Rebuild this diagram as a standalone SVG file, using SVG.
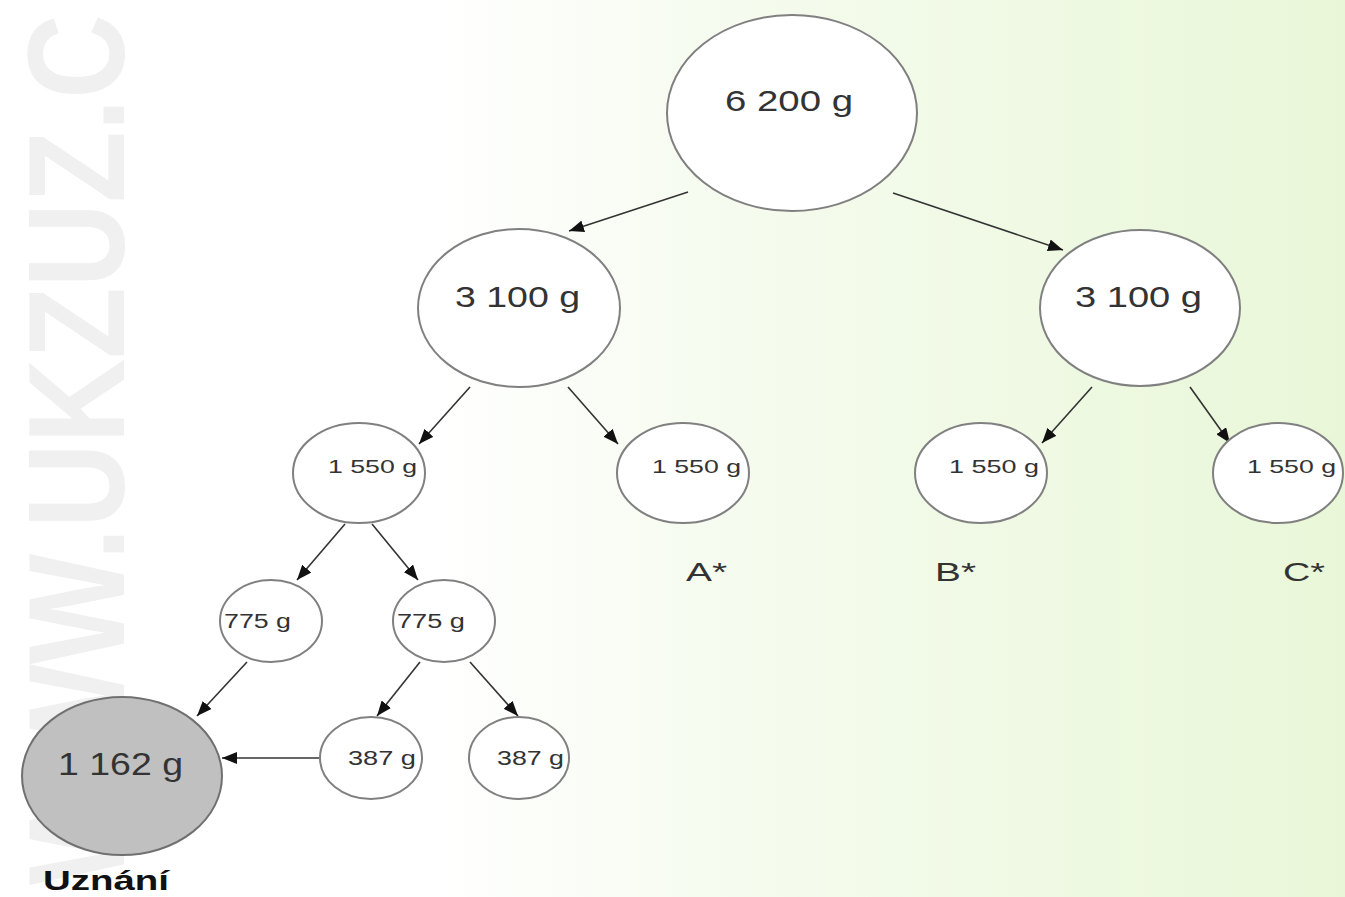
<svg xmlns="http://www.w3.org/2000/svg" width="1345" height="897" viewBox="0 0 1345 897">
<defs>
<linearGradient id="bg" x1="0" y1="0" x2="1345" y2="0" gradientUnits="userSpaceOnUse">
<stop offset="0" stop-color="#ffffff"/>
<stop offset="0.32" stop-color="#ffffff"/>
<stop offset="0.55" stop-color="#f5fbee"/>
<stop offset="1" stop-color="#e9f7d8"/>
</linearGradient>
<marker id="ah" markerUnits="userSpaceOnUse" markerWidth="16" markerHeight="12" refX="15" refY="6" orient="auto">
<path d="M0,0 L15,6 L0,12 z" fill="#111"/>
</marker>
<style>
.n{fill:#ffffff;stroke:#808080;stroke-width:2}
.g{fill:#c0c0c0;stroke:#707070;stroke-width:2}
.t{font-family:"Liberation Sans",Arial,sans-serif;fill:#333333}
.c line{stroke:#333333;stroke-width:1.6;marker-end:url(#ah)}
.wm{font-family:"Liberation Sans",Arial,sans-serif;font-weight:bold;fill:#f0f0f0}
</style>
</defs>
<rect x="0" y="0" width="1345" height="897" fill="url(#bg)"/>
<text class="wm" font-size="117" transform="translate(124,885) scale(1.17,1) rotate(-90)">WWW.UKZUZ.C</text>

<g id="connectors" class="c">
<line x1="688" y1="192" x2="569" y2="231"/>
<line x1="893" y1="193" x2="1063" y2="250"/>
<line x1="470" y1="387" x2="419" y2="444"/>
<line x1="568" y1="387" x2="618" y2="444"/>
<line x1="1092" y1="387" x2="1042" y2="443"/>
<line x1="1190" y1="387" x2="1230" y2="443"/>
<line x1="345" y1="524" x2="297" y2="580"/>
<line x1="372" y1="524" x2="418" y2="580"/>
<line x1="247" y1="662" x2="197" y2="716"/>
<line x1="420" y1="662" x2="377" y2="716"/>
<line x1="470" y1="662" x2="518" y2="716"/>
<line x1="320" y1="758" x2="222" y2="758"/>
</g>

<g id="n6200"><ellipse class="n" cx="792" cy="113" rx="125" ry="98"/><text class="t" x="725" y="111" font-size="30" textLength="128" lengthAdjust="spacingAndGlyphs">6 200 g</text></g>
<g id="n3100a"><ellipse class="n" cx="519" cy="308" rx="101" ry="79"/><text class="t" x="455" y="307" font-size="30" textLength="125" lengthAdjust="spacingAndGlyphs">3 100 g</text></g>
<g id="n3100b"><ellipse class="n" cx="1140" cy="308" rx="100" ry="78"/><text class="t" x="1075" y="307" font-size="30" textLength="127" lengthAdjust="spacingAndGlyphs">3 100 g</text></g>
<g id="n1550a"><ellipse class="n" cx="359" cy="473" rx="66" ry="50"/><text class="t" x="328" y="473" font-size="19" textLength="89" lengthAdjust="spacingAndGlyphs">1 550 g</text></g>
<g id="n1550b"><ellipse class="n" cx="683" cy="473" rx="66" ry="50"/><text class="t" x="652" y="473" font-size="19" textLength="89" lengthAdjust="spacingAndGlyphs">1 550 g</text></g>
<g id="n1550c"><ellipse class="n" cx="981" cy="473" rx="66" ry="50"/><text class="t" x="949" y="473" font-size="19" textLength="90" lengthAdjust="spacingAndGlyphs">1 550 g</text></g>
<g id="n1550d"><ellipse class="n" cx="1278" cy="473" rx="65" ry="50"/><text class="t" x="1247" y="473" font-size="19" textLength="89" lengthAdjust="spacingAndGlyphs">1 550 g</text></g>
<g id="n775a"><ellipse class="n" cx="271" cy="621" rx="51" ry="41"/><text class="t" x="224" y="628" font-size="20" textLength="67" lengthAdjust="spacingAndGlyphs">775 g</text></g>
<g id="n775b"><ellipse class="n" cx="444" cy="621" rx="51" ry="41"/><text class="t" x="397" y="628" font-size="20" textLength="68" lengthAdjust="spacingAndGlyphs">775 g</text></g>
<g id="n1162"><ellipse class="g" cx="122" cy="776" rx="100" ry="79"/><text class="t" x="58" y="775" font-size="31" textLength="125" lengthAdjust="spacingAndGlyphs">1 162 g</text></g>
<g id="n387a"><ellipse class="n" cx="371" cy="758" rx="51" ry="41"/><text class="t" x="348" y="765" font-size="20" textLength="68" lengthAdjust="spacingAndGlyphs">387 g</text></g>
<g id="n387b"><ellipse class="n" cx="519" cy="758" rx="50" ry="41"/><text class="t" x="497" y="765" font-size="20" textLength="67" lengthAdjust="spacingAndGlyphs">387 g</text></g>

<g id="labels">
<text class="t" x="686" y="581" font-size="25" textLength="41" lengthAdjust="spacingAndGlyphs">A*</text>
<text class="t" x="935" y="581" font-size="25" textLength="41" lengthAdjust="spacingAndGlyphs">B*</text>
<text class="t" x="1283" y="581" font-size="25" textLength="42" lengthAdjust="spacingAndGlyphs">C*</text>
<text class="t" x="43" y="890" font-size="28" font-weight="bold" style="fill:#111" textLength="126" lengthAdjust="spacingAndGlyphs">Uznání</text>
</g>
</svg>
